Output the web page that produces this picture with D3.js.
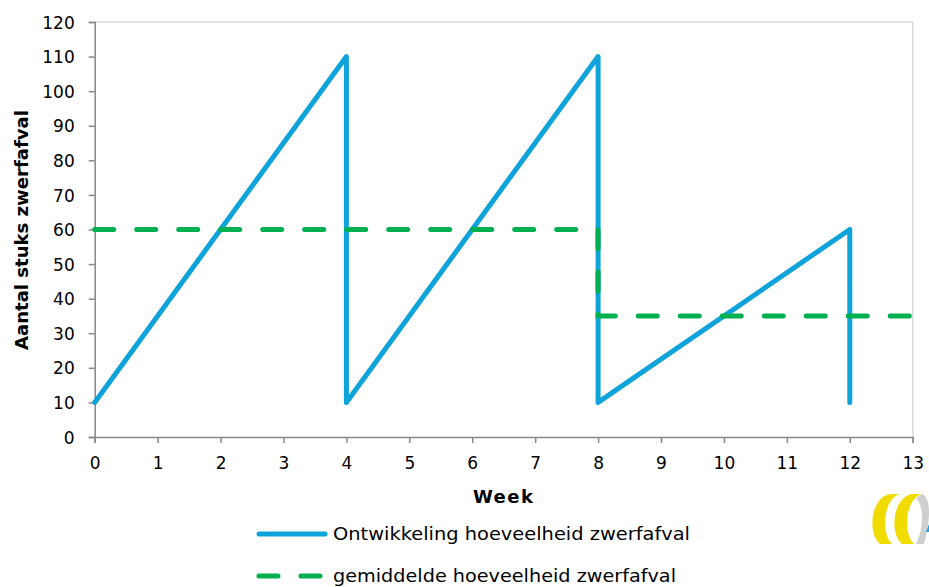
<!DOCTYPE html>
<html lang="nl">
<head>
<meta charset="UTF-8" />
<title>Zwerfafval</title>
<script src="https://d3js.org/d3.v7.min.js"></script>
<style>
  body { margin: 0; background: #fff; }
  svg { display: block; font-family: "DejaVu Sans", sans-serif; }
</style>
</head>
<body>
<div id="chart"></div>
<script>
// series: weekly development of litter and the average level
const weeksDev = [0, 4, 4, 8, 8, 12, 12];
const valuesDev = [10, 110, 10, 110, 10, 60, 10];
const weeksAvg = [0, 8, 8, 13];
const valuesAvg = [60, 60, 35, 35];
const xTicks = d3.range(0, 14);
const yTicks = d3.range(0, 121, 10);
const seriesNames = ["Ontwikkeling hoeveelheid zwerfafval", "gemiddelde hoeveelheid zwerfafval"];

const width = 929, height = 587;
const margin = { left: 94.7, right: 16.3, top: 22, bottom: 150 };

const svg = d3.select("#chart").append("svg")
  .attr("width", width).attr("height", height);

const x = d3.scaleLinear().domain([0, 13]).range([margin.left, width - margin.right]);
const y = d3.scaleLinear().domain([0, 120]).range([height - margin.bottom, margin.top]);

// light border top/right
svg.append("path")
  .attr("d", `M${x(0)},${y(120)}H${x(13)}V${y(0)}`)
  .attr("fill", "none").attr("stroke", "#d9d9d9").attr("stroke-width", 1.5);

const yAxis = svg.append("g")
  .attr("transform", `translate(${x(0)},0)`)
  .call(d3.axisLeft(y).tickValues(yTicks).tickSize(6).tickPadding(14));
const xAxis = svg.append("g")
  .attr("transform", `translate(0,${y(0)})`)
  .call(d3.axisBottom(x).tickValues(xTicks).tickSize(6).tickPadding(14));

[xAxis, yAxis].forEach(a => {
  a.select(".domain").attr("stroke", "#888").attr("stroke-width", 1.5);
  a.selectAll(".tick line").attr("stroke", "#888").attr("stroke-width", 1.5);
  a.selectAll("text").attr("font-size", 17).attr("fill", "#000")
    .attr("font-family", "DejaVu Sans");
});
yAxis.selectAll("text").attr("dy", "0.36em");
xAxis.selectAll("text").attr("dy", "0.72em");

// axis titles
svg.append("text")
  .attr("x", x(6.5) + 0).attr("y", 503)
  .attr("text-anchor", "middle").attr("font-weight", "bold")
  .attr("font-size", 18).attr("letter-spacing", 1.5)
  .text("Week");

svg.append("text")
  .attr("transform", `translate(28,230) rotate(-90)`)
  .attr("text-anchor", "middle").attr("font-weight", "bold")
  .attr("font-size", 17).attr("textLength", 240).attr("lengthAdjust", "spacingAndGlyphs")
  .text("Aantal stuks zwerfafval");

const line = d3.line().x(d => x(d[0])).y(d => y(d[1]));
const blue = "#0ea3db", green = "#00b050";

svg.append("path")
  .datum(d3.zip(weeksDev, valuesDev))
  .attr("d", line)
  .attr("fill", "none").attr("stroke", blue).attr("stroke-width", 5)
  .attr("stroke-linejoin", "round").attr("stroke-linecap", "round");

svg.append("path")
  .datum(d3.zip(weeksAvg, valuesAvg))
  .attr("d", line)
  .attr("fill", "none").attr("stroke", green).attr("stroke-width", 5)
  .attr("stroke-dasharray", "19,23").attr("stroke-linecap", "round");

// legend
const legend = svg.append("g");
const lx0 = 259, lx1 = 325;
legend.append("line").attr("x1", lx0).attr("x2", lx1).attr("y1", 534).attr("y2", 534)
  .attr("stroke", blue).attr("stroke-width", 5).attr("stroke-linecap", "round");
legend.append("line").attr("x1", lx0).attr("x2", lx1).attr("y1", 576).attr("y2", 576)
  .attr("stroke", green).attr("stroke-width", 5).attr("stroke-linecap", "round")
  .attr("stroke-dasharray", "19,23");
legend.selectAll("text.leg").data(seriesNames).join("text")
  .attr("class", "leg")
  .attr("x", 333).attr("y", (d, i) => 540 + i * 42)
  .attr("font-size", 17)
  .attr("textLength", (d, i) => i === 0 ? 357 : 343)
  .attr("lengthAdjust", "spacingAndGlyphs")
  .text(d => d);

// logo in the corner
const logo = svg.append("g").attr("transform", "translate(866,492)");
const yel = "#f2dc00";
logo.append("path")
  .attr("d", "M26,2 C6,2 0,40 14,52 L26,52 C14,40 18,6 34,2 Z")
  .attr("fill", yel);
logo.append("path")
  .attr("d", "M48,2 C28,2 22,40 36,52 L48,52 C36,40 40,6 56,2 Z")
  .attr("fill", yel);
logo.append("path")
  .attr("d", "M56,2 C66,6 64,30 58,52 L50,52 C58,36 58,14 50,6 Z")
  .attr("fill", "#cfcfcf");
logo.append("path")
  .attr("d", "M60,40 L66,24 L66,40 Z")
  .attr("fill", "#22a5de");
</script>
</body>
</html>
